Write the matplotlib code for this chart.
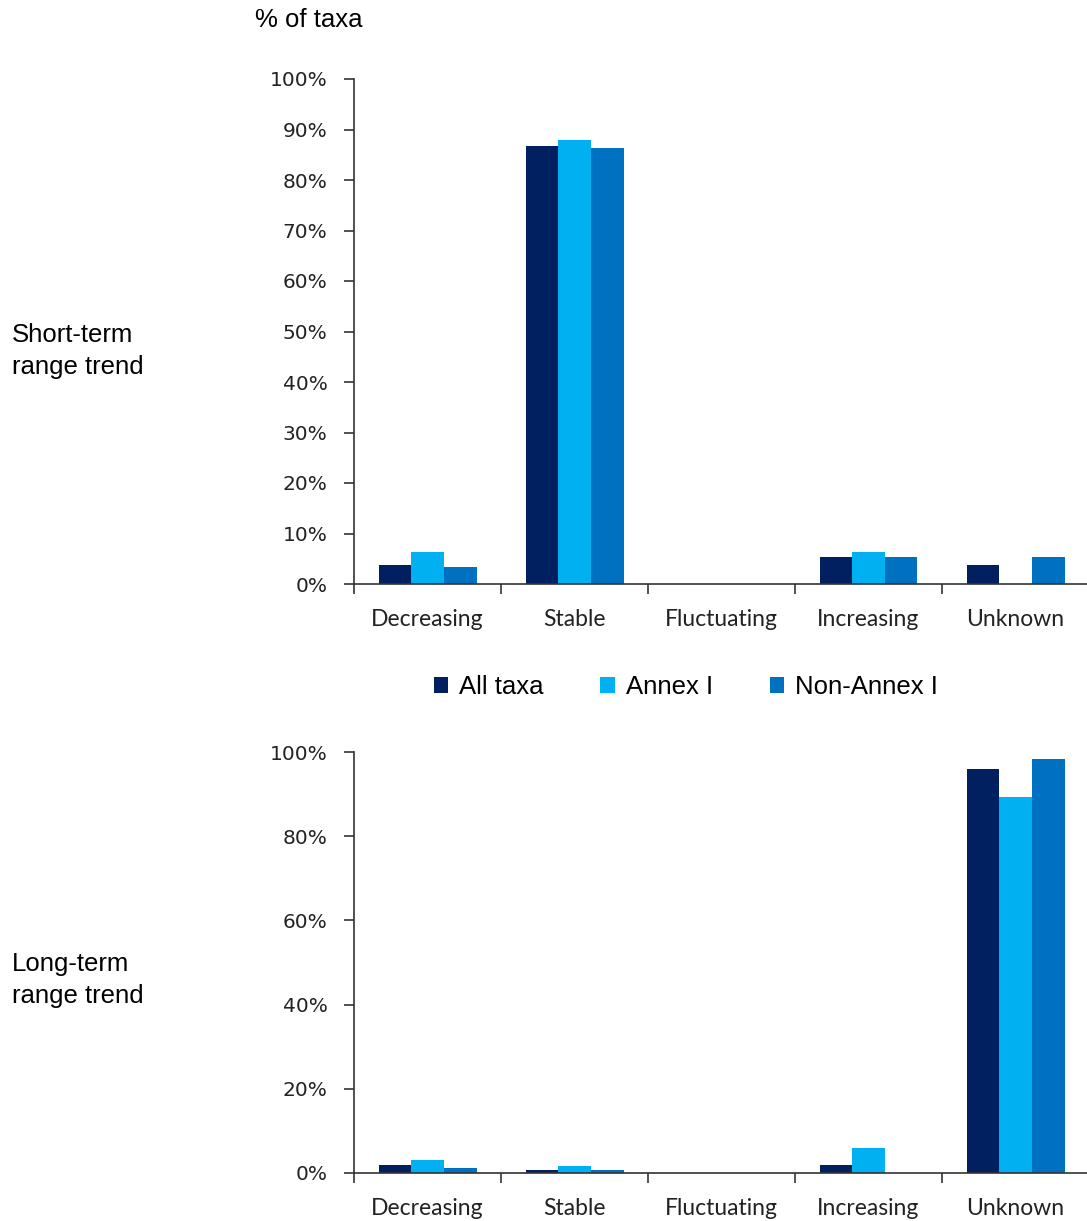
import numpy as np
import matplotlib
matplotlib.use('Agg')
import matplotlib.pyplot as plt
from matplotlib.patches import Patch
from matplotlib.ticker import PercentFormatter

# data (percent of taxa)
categories = ['Decreasing', 'Stable', 'Fluctuating', 'Increasing', 'Unknown']
series = ['All taxa', 'Annex I', 'Non-Annex I']
colors = ['#002060', '#00B0F0', '#0070C0']

short_all = [3.8, 86.7, 0.0, 5.3, 3.8]
short_annex = [6.3, 87.9, 0.0, 6.3, 0.0]
short_non = [3.4, 86.3, 0.0, 5.3, 5.3]

long_all = [1.9, 0.7, 0.0, 1.9, 96.0]
long_annex = [3.1, 1.7, 0.0, 5.9, 89.3]
long_non = [1.2, 0.7, 0.0, 0.0, 98.3]

W, H = 1087, 1221
fig = plt.figure(figsize=(W / 100, H / 100), dpi=100)

arial = 'Liberation Sans'
tick_font = 'DejaVu Sans'
cat_font = 'Lato'


def draw_panel(ax, values, yticks):
    x = np.arange(len(categories))
    bw = 1 / 4.5
    for i, (vals, col) in enumerate(zip(values, colors)):
        ax.bar(x + (i - 1) * bw, vals, width=bw, color=col, linewidth=0)
    ax.set_xlim(-0.5, len(categories) - 0.5)
    ax.set_ylim(0, 100)
    ax.set_yticks(yticks)
    ax.yaxis.set_major_formatter(PercentFormatter(decimals=0))
    for s in ['top', 'right']:
        ax.spines[s].set_visible(False)
    for s in ['left', 'bottom']:
        ax.spines[s].set_linewidth(1.2)
        ax.spines[s].set_color('#333333')
    # category labels at centres, tick marks at boundaries
    ax.set_xticks(x)
    ax.set_xticklabels(categories, family=cat_font, fontsize=16.5, color='#222222')
    ax.tick_params(axis='x', which='major', length=0, pad=18)
    ax.set_xticks(np.arange(len(categories)) - 0.5, minor=True)
    ax.tick_params(axis='x', which='minor', length=7, width=1.2, color='#333333', direction='out')
    ax.tick_params(axis='y', length=7, width=1.2, color='#333333', direction='out', pad=12)
    for lab in ax.get_yticklabels():
        lab.set_family(tick_font)
        lab.set_fontsize(14.5)
        lab.set_color('#222222')
    ax.set_facecolor('none')


ax1 = fig.add_axes([354 / W, 1 - 584 / H, 735 / W, 505 / H])
draw_panel(ax1, [short_all, short_annex, short_non], np.arange(0, 101, 10))

ax2 = fig.add_axes([354 / W, 1 - 1173 / H, 735 / W, 421 / H])
draw_panel(ax2, [long_all, long_annex, long_non], np.arange(0, 101, 20))

fig.text(255 / W, 1 - 20 / H, '% of taxa', family=arial, fontsize=18.5, va='center', ha='left')
fig.text(12 / W, 1 - 351 / H, 'Short-term\nrange trend', family=arial, fontsize=18.5,
         va='center', ha='left', linespacing=1.45)
fig.text(12 / W, 1 - 980 / H, 'Long-term\nrange trend', family=arial, fontsize=18.5,
         va='center', ha='left', linespacing=1.45)

handles = [Patch(facecolor=c, edgecolor='none') for c in colors]
fig.legend(handles, series, loc='center', bbox_to_anchor=(686 / W, 1 - 687 / H), ncol=3,
           frameon=False, prop={'family': arial, 'size': 18.5},
           handlelength=0.55, handleheight=0.55, handletextpad=0.45, columnspacing=2.2)

fig.savefig('out.png', dpi=100)
